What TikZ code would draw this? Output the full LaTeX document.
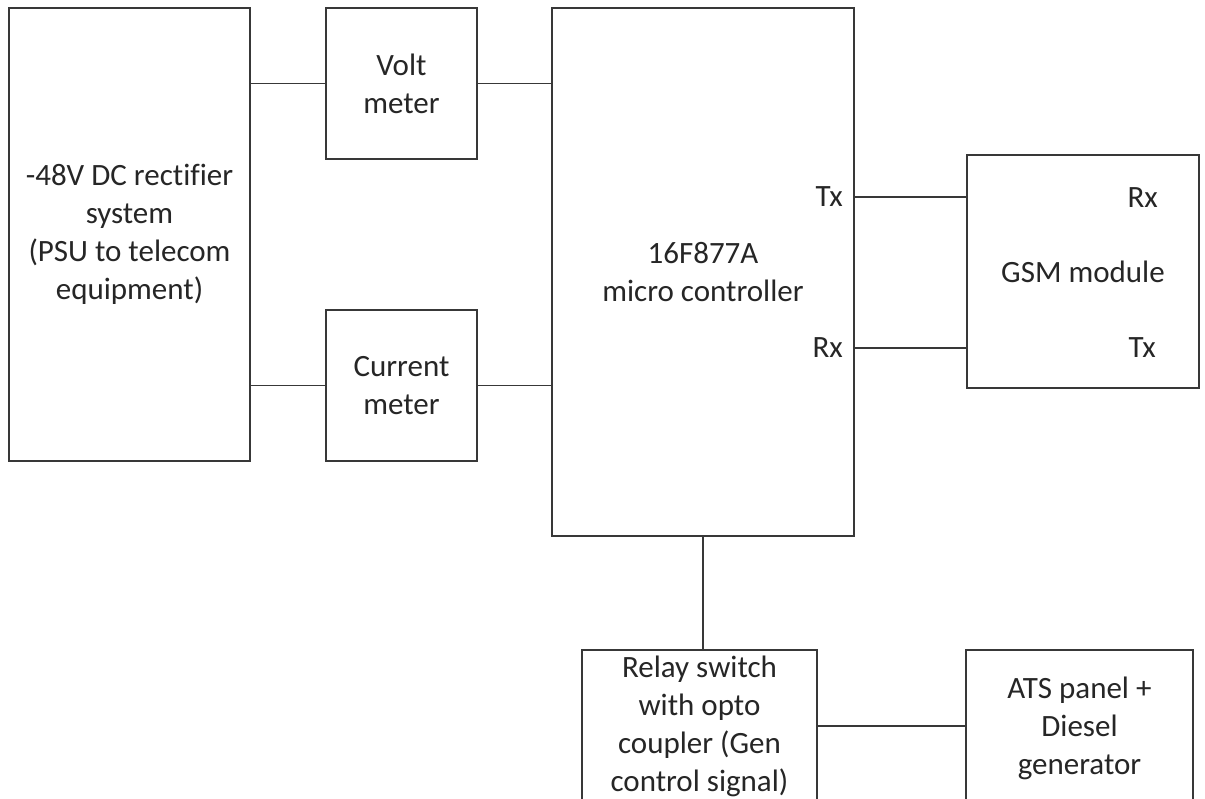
\documentclass[tikz,border=0pt]{standalone}
\usepackage{fontspec}
\setmainfont{Carlito}[Ligatures={NoCommon}]
\begin{document}
\begin{tikzpicture}[x=1pt,y=-1pt,
  box/.style={draw=black!78, line width=1.5pt, rectangle, inner sep=0pt, align=center, text=black!85, font=\fontsize{31}{38}\selectfont},
  wire/.style={draw=black!78, line width=1.5pt},
  lbl/.style={inner sep=0pt, text=black!85, font=\fontsize{31}{38}\selectfont}]
\clip (0,0) rectangle (1205,798);
\fill[white] (0,0) rectangle (1205,798);
\node[box, minimum width=241, minimum height=453] (psu) at (129.5,234.5) {-48V DC rectifier\\system\\(PSU to telecom\\equipment)};
\node[box, minimum width=151, minimum height=151] (volt) at (401.5,83.5) {Volt\\meter};
\node[box, minimum width=151, minimum height=151] (curr) at (401.5,385.5) {Current\\meter};
\node[box, minimum width=302, minimum height=528] (mcu) at (703,272) {16F877A\\micro controller};
\node[box, minimum width=232, minimum height=233] (gsm) at (1083,271.5) {GSM module};
\node[box, minimum width=235, minimum height=152] (relay) at (699.5,726) {Relay switch\\with opto\\coupler (Gen\\control signal)};
\node[box, minimum width=227, minimum height=156] (ats) at (1079.5,728) {ATS panel +\\Diesel\\generator};
\coordinate (tx) at (967,197);
\coordinate (rx) at (967,348);
\node[lbl, anchor=east] (mtx) at (843,197) {Tx};
\node[lbl, anchor=east] (mrx) at (843,348) {Rx};
\node[lbl, anchor=east] (grx) at (1158,198) {Rx};
\node[lbl, anchor=east] (gtx) at (1156,348) {Tx};
\draw[wire] (psu.east |- volt.west) -- (volt.west);
\draw[wire] (volt.east) -- (volt.east -| mcu.west);
\draw[wire] (psu.east |- curr.west) -- (curr.west);
\draw[wire] (curr.east) -- (curr.east -| mcu.west);
\draw[wire] (mcu.east |- tx) -- (gsm.west |- tx);
\draw[wire] (mcu.east |- rx) -- (gsm.west |- rx);
\draw[wire] (mcu.south) -- (mcu.south |- relay.north);
\draw[wire] (relay.east) -- (relay.east -| ats.west);
\end{tikzpicture}
\end{document}
